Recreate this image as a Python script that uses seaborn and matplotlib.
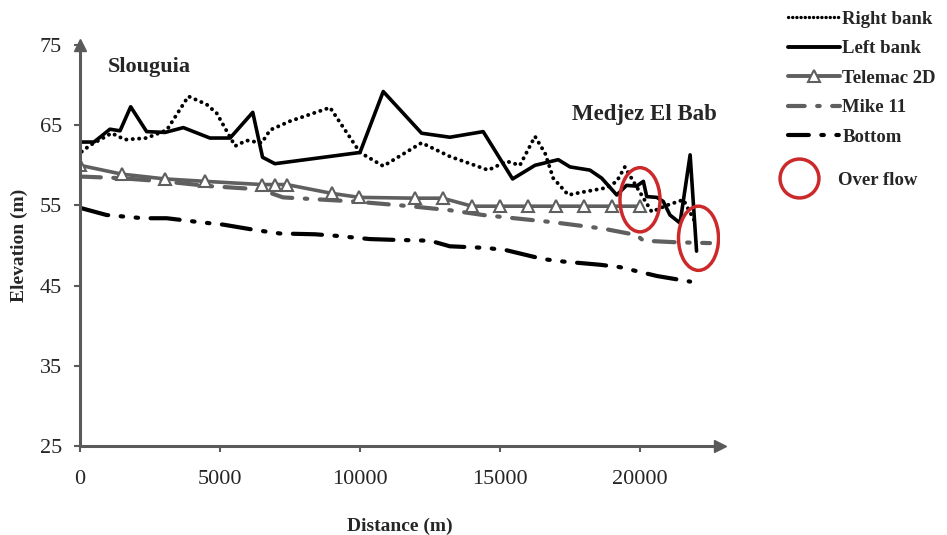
"""
Longitudinal profile of the river between Slouguia and Medjez El Bab:
bank elevations, simulated water lines (Telemac 2D, Mike 11) and river bottom.
"""

import matplotlib
matplotlib.use("Agg")
import matplotlib.pyplot as plt
from matplotlib.lines import Line2D
from matplotlib.patches import Ellipse
import seaborn as sns

# Right bank (dotted)
right_x = [60, 360, 1130, 1610, 2380, 3100, 3870, 4520, 4880, 5540, 5950, 6490, 6790,
           7500, 8930, 10000, 10830, 12200, 13210, 14580, 15240, 15710, 16250, 16610,
           16900, 17440, 17860, 18810, 19170, 19460, 19760, 20420, 20950, 21550, 22020]
right_y = [61.7, 62.5, 64.0, 63.2, 63.4, 64.4, 68.6, 67.6, 66.5, 62.4, 63.1, 62.8, 64.4,
           65.5, 67.2, 61.6, 59.9, 62.8, 61.1, 59.4, 60.5, 60.0, 63.6, 61.5,
           58.4, 56.3, 56.6, 57.2, 58.0, 59.8, 58.0, 54.2, 55.0, 55.7, 52.6]

# Left bank (solid)
left_x = [60, 500, 1070, 1430, 1810, 2380, 3040, 3690, 4640, 5360, 6170, 6520, 6960,
          10000, 10830, 12200, 13210, 14400, 15450, 16250, 17080, 17500, 18210, 18630,
          19170, 19520, 19880, 20120, 20240, 20600, 20830, 21070, 21430, 21790, 22020]
left_y = [62.9, 62.9, 64.5, 64.3, 67.3, 64.2, 64.1, 64.7, 63.4, 63.4, 66.6, 61.0, 60.2,
          61.6, 69.2, 64.0, 63.5, 64.2, 58.3, 60.0, 60.7, 59.8, 59.4, 58.4,
          56.3, 57.5, 57.4, 58.0, 56.1, 56.0, 55.5, 53.8, 52.8, 61.3, 49.3]

# Telemac 2D water line
telemac_x = [0, 1490, 3040, 4460, 6490, 6960, 7380, 8990, 9980, 11960, 12950,
             14000, 15000, 16000, 17000, 18000, 19000, 20000]
telemac_y = [60.0, 58.9, 58.3, 58.0, 57.6, 57.6, 57.6, 56.5, 56.0, 55.9, 55.9,
             54.9, 54.9, 54.9, 54.9, 54.9, 54.9, 54.9]

# Mike 11 water line
mike_x = [0, 1430, 2980, 4640, 6430, 7250, 9760, 11790, 13210, 14400, 16900,
          18690, 19880, 20120, 21310, 22500]
mike_y = [58.6, 58.4, 58.0, 57.4, 57.0, 56.0, 55.5, 54.9, 54.4, 53.8, 52.9,
          52.1, 51.3, 50.6, 50.4, 50.3]

# River bottom
bottom_x = [0, 950, 2260, 3100, 4290, 5120, 6310, 7140, 8390, 9170, 10360, 11250,
            12500, 13210, 14520, 15240, 16550, 17260, 18570, 19290, 20600, 21790]
bottom_y = [54.7, 53.8, 53.4, 53.4, 52.9, 52.6, 51.9, 51.5, 51.4, 51.2, 50.8, 50.7,
            50.6, 49.9, 49.7, 49.4, 48.3, 48.0, 47.6, 47.3, 46.2, 45.5]

# Overflow zones (centre x, centre y)
overflow_x = [20000, 22090]
overflow_y = [55.7, 50.9]

y_ticks = [25, 35, 45, 55, 65, 75]
x_ticks = [0, 5000, 10000, 15000, 20000]

sns.set_style("white")
plt.rcParams["font.family"] = ["Liberation Serif", "DejaVu Serif"]

axis_c = "#5a5a5a"
gray_c = "#5f5f5f"
red_c = "#cc2a2a"
dot_ls = (0, (0.05, 1.6))
mike_ls = (0, (5, 3, 0.6, 3))
bottom_ls = (0, (7, 3, 0.6, 3, 0.6, 3))

fig = plt.figure(figsize=(9.47, 5.35), dpi=100)
ax = fig.add_axes([80 / 947, 1 - 446 / 535, 640 / 947, 401 / 535])

sns.lineplot(x=right_x, y=right_y, ax=ax, color="black", lw=2.8, linestyle=dot_ls,
             dash_capstyle="round", estimator=None, sort=False)
sns.lineplot(x=left_x, y=left_y, ax=ax, color="black", lw=2.6,
             estimator=None, sort=False)
sns.lineplot(x=mike_x, y=mike_y, ax=ax, color=gray_c, lw=3, linestyle=mike_ls,
             dash_capstyle="round", estimator=None, sort=False)
sns.lineplot(x=bottom_x, y=bottom_y, ax=ax, color="black", lw=3, linestyle=bottom_ls,
             dash_capstyle="round", estimator=None, sort=False)
sns.lineplot(x=telemac_x, y=telemac_y, ax=ax, color=gray_c, lw=2.6,
             marker="^", markersize=9, markerfacecolor="white",
             markeredgecolor=gray_c, markeredgewidth=1.5,
             estimator=None, sort=False)

for cx, cy in zip(overflow_x, overflow_y):
    ax.add_patch(Ellipse((cx, cy), width=1430, height=8.0, fill=False,
                         edgecolor=red_c, lw=2.5, zorder=5))

ax.set_xlim(0, 640 / 0.028)
ax.set_ylim(25, 75)
ax.set_xticks(x_ticks)
ax.set_yticks(y_ticks)
ax.tick_params(axis="x", direction="out", length=4, width=1.5, color=axis_c,
               pad=13, labelsize=16)
ax.tick_params(axis="y", direction="out", length=4, width=1.5, color=axis_c,
               pad=9, labelsize=16)
ax.tick_params(bottom=True, left=True)

for side in ["top", "right"]:
    ax.spines[side].set_visible(False)
for side in ["left", "bottom"]:
    ax.spines[side].set_color(axis_c)
    ax.spines[side].set_linewidth(2.2)

# arrow heads on the axes
ax.plot(1, 25, ">", color=axis_c, ms=9, transform=ax.get_yaxis_transform(), clip_on=False)
ax.plot(0, 1, "^", color=axis_c, ms=9, transform=ax.get_xaxis_transform(), clip_on=False)

ax.set_xlabel("Distance (m)", fontsize=14, fontweight="bold")
ax.set_ylabel("Elevation (m)", fontsize=14, fontweight="bold")
ax.xaxis.set_label_coords(0.5, -0.18)
ax.yaxis.set_label_coords(-0.082, 0.5)

ax.text(1000, 72.3, "Slouguia", fontsize=16, fontweight="bold", va="center")
ax.text(17570, 66.3, "Medjez El Bab", fontsize=16.5, fontweight="bold", va="center")

line_handles = [
    Line2D([], [], color="black", lw=2.4, linestyle=(0, (0.05, 1.2)), dash_capstyle="round"),
    Line2D([], [], color="black", lw=2.8),
    Line2D([], [], color=gray_c, lw=2.8, marker="^", markersize=9,
           markerfacecolor="white", markeredgecolor=gray_c, markeredgewidth=1.5),
    Line2D([], [], color=gray_c, lw=3, linestyle=(0, (4, 3, 0.6, 3)), dash_capstyle="round"),
    Line2D([], [], color="black", lw=3, linestyle=(0, (5, 3, 0.6, 3, 0.6, 3)),
           dash_capstyle="round"),
]
line_labels = ["Right bank", "Left bank", "Telemac 2D", "Mike 11", "Bottom"]
leg = fig.legend(line_handles, line_labels, loc="upper left",
                 bbox_to_anchor=(788 / 947, 0.98), frameon=False,
                 prop={"weight": "bold", "size": 13.5}, handlelength=2.75,
                 handletextpad=0.15, labelspacing=0.66, borderpad=0, borderaxespad=0)

circle_handle = Line2D([], [], color=red_c, lw=0, marker="o", markersize=28,
                       markerfacecolor="white", markeredgecolor=red_c, markeredgewidth=2.5)
fig.legend([circle_handle], ["Over flow"], loc="center left",
           bbox_to_anchor=(778 / 947, 1 - 180 / 535), frameon=False,
           prop={"weight": "bold", "size": 13.5}, handlelength=2.2,
           handletextpad=1.0, borderpad=0, borderaxespad=0)

fig.savefig("out.png", dpi=100)
plt.close(fig)
